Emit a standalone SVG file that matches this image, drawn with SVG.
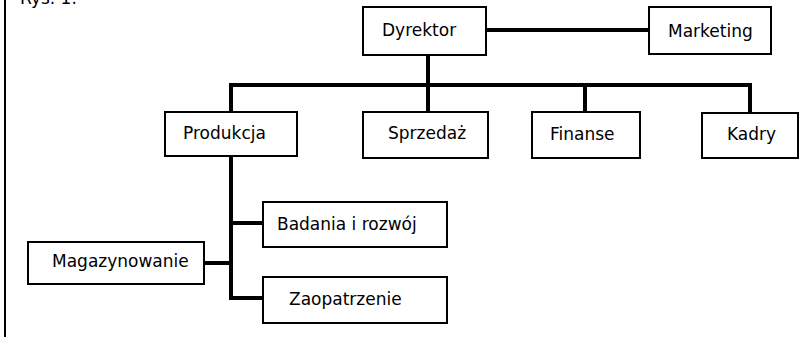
<svg xmlns="http://www.w3.org/2000/svg" width="810" height="339" viewBox="0 0 810 339">
<style>
.box{fill:#fff;stroke:#000;stroke-width:2}
.lbl{font-family:"DejaVu Sans",sans-serif;font-size:17px;fill:#000}
.conn line{stroke:#000;stroke-width:4;stroke-linecap:square}
</style>
<rect width="810" height="339" fill="#fff"/>
<line x1="5" y1="0" x2="5" y2="337" stroke="#000" stroke-width="2"/>
<text class="lbl" x="20" y="4">Rys. 1.</text>
<g class="conn" id="connectors">
<line x1="486" y1="30" x2="649" y2="30"/>
<line x1="428" y1="55" x2="428" y2="85"/>
<line x1="231" y1="85" x2="750" y2="85"/>
<line x1="231" y1="85" x2="231" y2="112"/>
<line x1="428" y1="85" x2="428" y2="112"/>
<line x1="585" y1="85" x2="585" y2="112"/>
<line x1="750" y1="85" x2="750" y2="113"/>
<line x1="231" y1="156" x2="231" y2="298"/>
<line x1="231" y1="223" x2="263" y2="223"/>
<line x1="231" y1="298" x2="263" y2="298"/>
<line x1="204" y1="263" x2="231" y2="263"/>
</g>
<g id="dyrektor"><rect class="box" x="363" y="7" width="123" height="48"/><text class="lbl" x="382" y="36">Dyrektor</text></g>
<g id="marketing"><rect class="box" x="649" y="7" width="122" height="47"/><text class="lbl" x="668" y="37">Marketing</text></g>
<g id="produkcja"><rect class="box" x="165" y="112" width="132" height="44"/><text class="lbl" x="183" y="139">Produkcja</text></g>
<g id="sprzedaz"><rect class="box" x="363" y="112" width="125" height="46"/><text class="lbl" x="388" y="139">Sprzedaż</text></g>
<g id="finanse"><rect class="box" x="532" y="112" width="108" height="46"/><text class="lbl" x="550" y="140">Finanse</text></g>
<g id="kadry"><rect class="box" x="702" y="113" width="96" height="45"/><text class="lbl" x="727" y="140">Kadry</text></g>
<g id="badania"><rect class="box" x="263" y="202" width="184" height="45"/><text class="lbl" x="277" y="230">Badania i rozwój</text></g>
<g id="zaopatrzenie"><rect class="box" x="263" y="277" width="184" height="46"/><text class="lbl" x="289" y="305">Zaopatrzenie</text></g>
<g id="magazynowanie"><rect class="box" x="28" y="242" width="176" height="42"/><text class="lbl" x="52" y="267">Magazynowanie</text></g>
</svg>
